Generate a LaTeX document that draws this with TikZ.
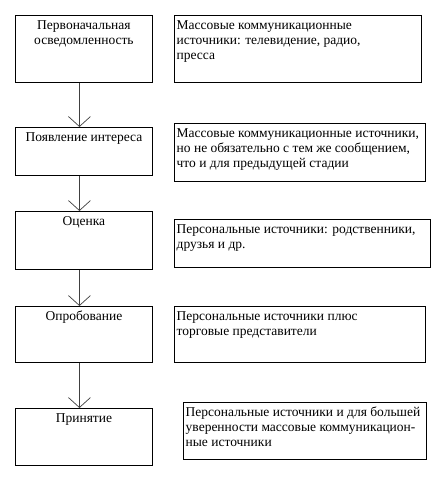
\documentclass[tikz,border=0pt]{standalone}
\usepackage{fontspec}
\setmainfont{Liberation Serif}
\newfontfamily\boxfont{Liberation Serif}
\usetikzlibrary{arrows.meta}

\begin{document}
\begin{tikzpicture}
  [
    x=1pt, y=-1pt,
    stage/.style =
      {draw, line width=0.9pt, rectangle, anchor=north west, inner sep=0pt, minimum width=137pt},
    source/.style =
      {draw, line width=0.9pt, rectangle, anchor=north west, inner sep=0pt},
    stagetext/.style =
      {anchor=north, align=center, inner xsep=2pt, inner ysep=5pt,
       font=\boxfont\fontsize{13.5}{15}\selectfont},
    sourcetext/.style =
      {anchor=north west, align=left, inner xsep=2.5pt, inner ysep=5pt,
       font=\boxfont\fontsize{13.5}{15}\selectfont},
    farrow/.style =
      {->, >={Straight Barb[length=10pt, width=22pt]}, line width=0.7pt, draw=black!75}
  ]

\useasboundingbox (0,0) rectangle (443,479);

\node[stage, minimum height=67pt,
  label={[stagetext]north:Первоначальная\\осведомленность}] (s1) at (15,15) {};
\node[stage, minimum height=48pt,
  label={[stagetext]north:Появление интереса}] (s2) at (15,127) {};
\node[stage, minimum height=58pt,
  label={[stagetext]north:Оценка}] (s3) at (15,211) {};
\node[stage, minimum height=56pt,
  label={[stagetext]north:Опробование}] (s4) at (15,306) {};
\node[stage, minimum height=57pt,
  label={[stagetext]north:Принятие}] (s5) at (15,408) {};

\node[source, minimum width=247pt, minimum height=67pt,
  label={[sourcetext]north west:{Массовые коммуникационные\\источники: телевидение, радио,\\пресса}}] (r1) at (174,15) {};
\node[source, minimum width=251pt, minimum height=58pt,
  label={[sourcetext]north west:{Массовые коммуникационные источники,\\но не обязательно с тем же сообщением,\\что и для предыдущей стадии}}] (r2) at (174,123) {};
\node[source, minimum width=256pt, minimum height=48pt,
  label={[sourcetext]north west:{Персональные источники: родственники,\\друзья и др.}}] (r3) at (174,219) {};
\node[source, minimum width=251pt, minimum height=56pt,
  label={[sourcetext]north west:{Персональные источники плюс\\торговые представители}}] (r4) at (174,306) {};
\node[source, minimum width=243pt, minimum height=57pt,
  label={[sourcetext]north west:{Персональные источники и для большей\\уверенности массовые коммуникацион-\\ные источники}}] (r5) at (183,402) {};

\draw [farrow] ([xshift=-4.5pt]s1.south) -- ([xshift=-4.5pt]s2.north);
\draw [farrow] ([xshift=-4.5pt]s2.south) -- ([xshift=-4.5pt]s3.north);
\draw [farrow] ([xshift=-4.5pt]s3.south) -- ([xshift=-4.5pt]s4.north);
\draw [farrow] ([xshift=-4.5pt]s4.south) -- ([xshift=-4.5pt]s5.north);

\end{tikzpicture}
\end{document}
